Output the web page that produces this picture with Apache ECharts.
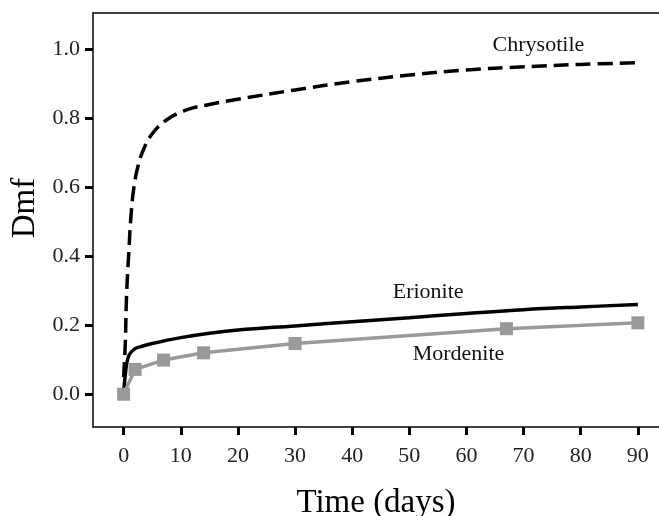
<!DOCTYPE html>
<html>
<head>
<meta charset="utf-8">
<script src="https://cdn.jsdelivr.net/npm/echarts@6/dist/echarts.min.js"></script>
<style>html,body{margin:0;padding:0;background:#fff}#c{width:659px;height:516px}</style>
</head>
<body>
<div id="c"></div>
<script>
const chrysotile = [[0,0.05],[0.3,0.15],[0.5,0.28],[0.9,0.41],[1.3,0.52],[1.8,0.6],[2.5,0.66],[3.5,0.71],[5,0.755],[7.5,0.795],[11,0.824],[15,0.84],[20,0.855],[30,0.882],[40,0.906],[50,0.925],[60,0.94],[70,0.949],[80,0.956],[90,0.961]];
const erionite = [[0,0],[0.5,0.085],[1,0.115],[2,0.132],[3,0.138],[5,0.147],[10,0.164],[15,0.177],[20,0.186],[30,0.198],[40,0.21],[50,0.222],[60,0.234],[70,0.245],[80,0.253],[90,0.26]];
const mordenite = [[0,0],[2,0.072],[7,0.099],[14,0.12],[30,0.147],[67,0.19],[90,0.207]];
const xTicks = [0,10,20,30,40,50,60,70,80,90];
const yTicks = [0,0.2,0.4,0.6,0.8,1.0];
const labels = [
  {name:'Chrysotile', coord:[72.6,1.013]},
  {name:'Erionite', coord:[53.3,0.297]},
  {name:'Mordenite', coord:[58.6,0.116]}
];

const serif = 'Liberation Serif';
const chart = echarts.init(document.getElementById('c'));
chart.setOption({
  animation:false,
  grid:{left:93,right:0,top:13,bottom:89,outerBoundsMode:'none',containLabel:false},
  xAxis:[{
    type:'value', min:-5.36, max:93.7,
    name:'Time (days)', nameLocation:'middle', nameGap:60,
    nameTextStyle:{fontFamily:serif,fontSize:33,color:'#000'},
    axisLine:{show:true,onZero:false,lineStyle:{color:'#000',width:1.5}},
    axisTick:{show:true,length:8,lineStyle:{color:'#000',width:3},customValues:xTicks},
    axisLabel:{fontFamily:serif,fontSize:22,color:'#222',margin:18,customValues:xTicks,formatter:v=>String(v)},
    splitLine:{show:false}
  },{
    type:'value', position:'top', min:-5.36, max:93.7,
    axisLine:{show:true,onZero:false,lineStyle:{color:'#000',width:1.5}},
    axisTick:{show:false}, axisLabel:{show:false}, splitLine:{show:false}
  }],
  yAxis:{
    type:'value', min:-0.095, max:1.105,
    name:'Dmf', nameLocation:'middle', nameGap:50, nameRotate:90,
    nameTextStyle:{fontFamily:serif,fontSize:33,color:'#000',padding:[0,0,0,24]},
    axisLine:{show:true,onZero:false,lineStyle:{color:'#000',width:1.5}},
    axisTick:{show:true,length:8,lineStyle:{color:'#000',width:3},customValues:yTicks},
    axisLabel:{fontFamily:serif,fontSize:22,color:'#222',margin:13,customValues:yTicks,formatter:v=>v.toFixed(1)},
    splitLine:{show:false}
  },
  series:[
    {type:'line',name:'Chrysotile',data:chrysotile,smooth:0.4,showSymbol:false,
     lineStyle:{color:'#000',width:3.5,type:[15,7]},
     markPoint:{symbol:'circle',symbolSize:0,data:[{coord:labels[0].coord}],
       label:{show:true,formatter:labels[0].name,fontFamily:serif,fontSize:22,color:'#111'}}},
    {type:'line',name:'Erionite',data:erionite,smooth:0.4,showSymbol:false,
     lineStyle:{color:'#000',width:3.5},
     markPoint:{symbol:'circle',symbolSize:0,data:[{coord:labels[1].coord}],
       label:{show:true,formatter:labels[1].name,fontFamily:serif,fontSize:22,color:'#111'}}},
    {type:'line',name:'Mordenite',data:mordenite,smooth:false,symbol:'rect',symbolSize:13,showSymbol:true,
     lineStyle:{color:'#999',width:3.5},itemStyle:{color:'#999'},
     markPoint:{symbol:'circle',symbolSize:0,data:[{coord:labels[2].coord}],
       label:{show:true,formatter:labels[2].name,fontFamily:serif,fontSize:22,color:'#111'}}}
  ]
});
</script>
</body>
</html>
